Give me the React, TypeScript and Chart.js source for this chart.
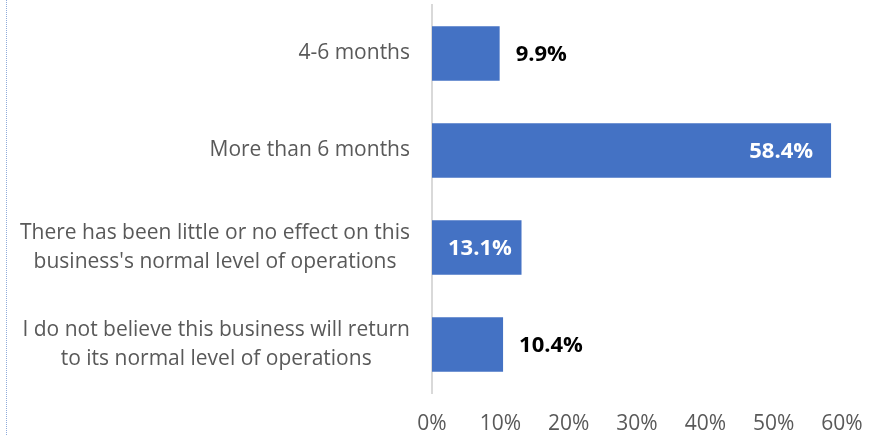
import React, { useEffect, useRef } from "react";
import { Chart, registerables } from "chart.js";

Chart.register(...registerables);

const categories: (string | string[])[] = [
  "4-6 months",
  "More than 6 months",
  ["There has been little or no effect on this", "business's normal level of operations"],
  ["I do not believe this business will return", "to its normal level of operations"],
];
const values = [9.9, 58.4, 13.1, 10.4];
const xTicks = [0, 10, 20, 30, 40, 50, 60];

const FONT = "'Open Sans', 'Liberation Sans', sans-serif";

const labelPlugin = {
  id: "barLabels",
  afterDatasetsDraw(chart: any) {
    const ctx = chart.ctx;
    const meta = chart.getDatasetMeta(0);
    const area = chart.chartArea;
    ctx.save();
    ctx.font = `bold 22px ${FONT}`;
    ctx.textBaseline = "middle";
    meta.data.forEach((bar: any, i: number) => {
      const v = values[i];
      const text = v.toFixed(1) + "%";
      const w = ctx.measureText(text).width;
      if (v > 12) {
        let right = bar.x - 18;
        if (right - w < area.left + 16) right = area.left + 16 + w;
        ctx.fillStyle = "#ffffff";
        ctx.textAlign = "right";
        ctx.fillText(text, right, bar.y + 1);
      } else {
        ctx.fillStyle = "#000000";
        ctx.textAlign = "left";
        ctx.fillText(text, bar.x + 16, bar.y + 1);
      }
    });

    // category labels: block right-aligned, lines centered within block
    const yScale = chart.scales.y;
    ctx.font = `21px ${FONT}`;
    ctx.fillStyle = "#595959";
    ctx.textAlign = "center";
    ctx.textBaseline = "middle";
    const lineH = 29;
    const rightEdge = area.left - 22;
    categories.forEach((c, i) => {
      const lines = Array.isArray(c) ? c : [c];
      const maxW = Math.max(...lines.map((l) => ctx.measureText(l).width));
      const cx = rightEdge - maxW / 2;
      const cy = yScale.getPixelForTick(i);
      const startY = cy - ((lines.length - 1) * lineH) / 2;
      lines.forEach((l, k) => ctx.fillText(l, cx, startY + k * lineH));
    });
    ctx.restore();
  },
};

export default function App() {
  const ref = useRef<HTMLCanvasElement>(null);
  useEffect(() => {
    document.body.style.margin = "0";
    const chart = new Chart(ref.current!, {
      type: "bar",
      data: {
        labels: categories,
        datasets: [
          {
            data: values,
            backgroundColor: "#4472C4",
            borderWidth: 0,
            categoryPercentage: 0.56,
            barPercentage: 1,
          },
        ],
      },
      options: {
        indexAxis: "y",
        animation: false,
        responsive: false,
        maintainAspectRatio: false,
        layout: { padding: { left: 0, right: 42, top: 5, bottom: 0 } },
        plugins: {
          legend: { display: false },
          tooltip: { enabled: false },
        },
        scales: {
          x: {
            min: 0,
            max: 60,
            afterBuildTicks: (s: any) => {
              s.ticks = xTicks.map((v) => ({ value: v }));
            },
            grid: { display: false, drawTicks: false },
            border: { display: false },
            ticks: {
              padding: 18,
              color: "#595959",
              font: { family: FONT, size: 21 },
              callback: (v: any) => v + "%",
            },
            afterFit: (s: any) => {
              s.height = 42;
              s.paddingLeft = 0;
              s.paddingRight = 0;
            },
          },
          y: {
            grid: { display: false, drawTicks: false },
            border: { display: true, color: "#d9d9d9", width: 2 },
            ticks: {
              display: false,
            },
            afterFit: (s: any) => {
              s.width = 432;
              s.paddingTop = 0;
              s.paddingBottom = 0;
            },
          },
        },
      },
      plugins: [labelPlugin],
    });
    return () => chart.destroy();
  }, []);
  return (
    <div style={{ position: "relative", width: 884, height: 435 }}>
      <div
        style={{
          position: "absolute",
          left: 6,
          top: 0,
          width: 0,
          height: 435,
          borderLeft: "1px dotted #8eaadb",
        }}
      />
      <canvas ref={ref} width={884} height={435} style={{ display: "block" }} />
    </div>
  );
}
